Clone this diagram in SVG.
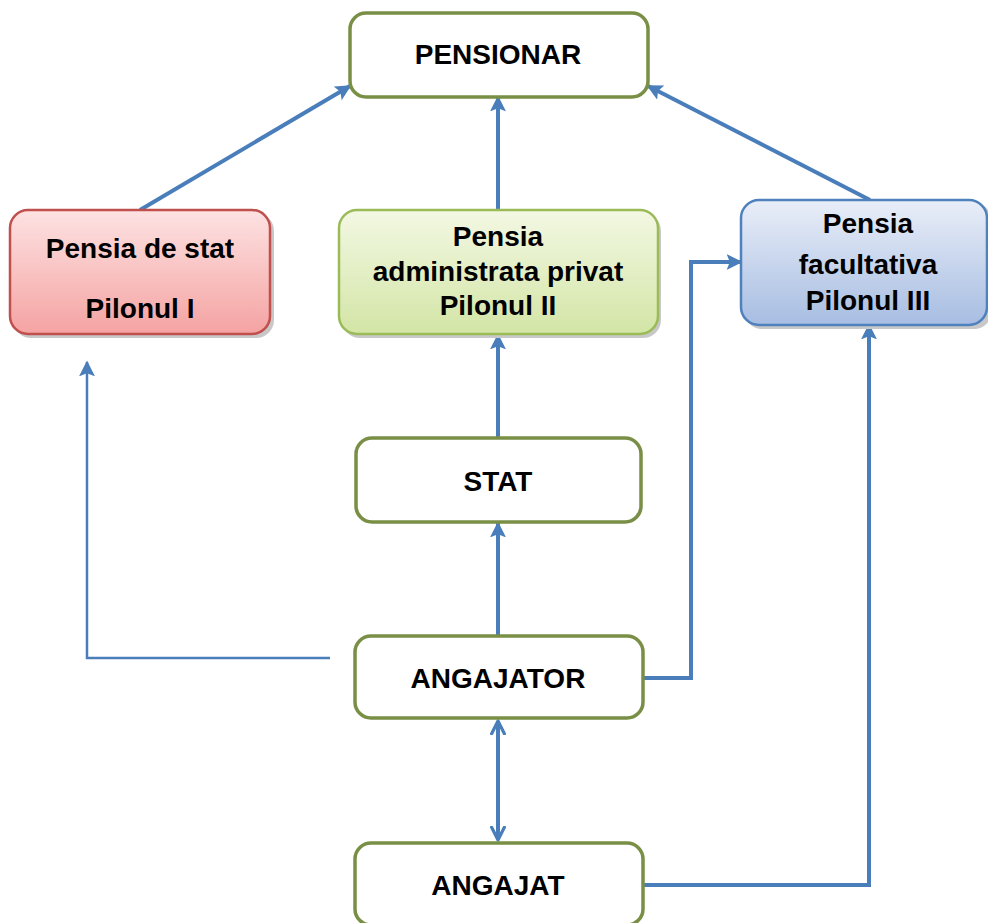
<svg xmlns="http://www.w3.org/2000/svg" width="988" height="923" viewBox="0 0 988 923">
<defs>
<linearGradient id="gRed" x1="0" y1="0" x2="0" y2="1"><stop offset="0" stop-color="#fde2e2"/><stop offset="1" stop-color="#f4a3a2"/></linearGradient>
<linearGradient id="gGreen" x1="0" y1="0" x2="0" y2="1"><stop offset="0" stop-color="#f3f8e3"/><stop offset="1" stop-color="#d3e5a6"/></linearGradient>
<linearGradient id="gBlue" x1="0" y1="0" x2="0" y2="1"><stop offset="0" stop-color="#e9eef8"/><stop offset="1" stop-color="#a7bde2"/></linearGradient>
<marker id="triBig" viewBox="0 0 10 10" refX="9" refY="5" markerWidth="16" markerHeight="16" markerUnits="userSpaceOnUse" orient="auto"><path d="M0,0 L10,5 L0,10 L2,5 z" fill="#4a7ebb"/></marker>
<marker id="open" viewBox="0 0 10 10" refX="9" refY="5" markerWidth="16" markerHeight="16" markerUnits="userSpaceOnUse" orient="auto-start-reverse"><path d="M1,1 L9,5 L1,9" fill="none" stroke="#4a7ebb" stroke-width="2" stroke-linecap="round" stroke-linejoin="round"/></marker>
</defs>
<style>
.wb{fill:#ffffff;stroke:#7a8f46;stroke-width:3.5}
.t{font-family:"Liberation Sans",Arial,sans-serif;font-weight:bold;font-size:28px;fill:#000;text-anchor:middle}
.c{fill:none;stroke:#4a7ebb;stroke-width:4}
.c2{fill:none;stroke:#4a7ebb;stroke-width:2.5}
.sh{fill:#c8c8c8}
</style>
<g id="connectors">
<line class="c" x1="140" y1="210" x2="350" y2="86" marker-end="url(#triBig)"/>
<line class="c" x1="498" y1="210" x2="498" y2="97" marker-end="url(#triBig)"/>
<line class="c" x1="870" y1="200" x2="648" y2="86" marker-end="url(#triBig)"/>
<line class="c" x1="498" y1="438" x2="498" y2="335" marker-end="url(#triBig)"/>
<line class="c" x1="498" y1="636" x2="498" y2="523" marker-end="url(#triBig)"/>
<polyline class="c2" points="330,658 87,658 87,362" marker-end="url(#triBig)"/>
<polyline class="c" points="643,678 691,678 691,262 741,262" marker-end="url(#triBig)"/>
<polyline class="c" points="643,885 869,885 869,325" marker-end="url(#triBig)"/>
<line class="c" x1="498" y1="721" x2="498" y2="840" marker-start="url(#open)" marker-end="url(#open)"/>
</g>
<g id="pensionar">
<rect class="wb" x="350" y="13" width="298" height="84" rx="16"/>
<text class="t" x="498" y="64">PENSIONAR</text>
</g>
<g id="pilonul1">
<rect class="sh" x="13" y="213" width="261" height="125" rx="18"/>
<rect x="10" y="210" width="260" height="124" rx="18" fill="url(#gRed)" stroke="#c0504d" stroke-width="2.5"/>
<text class="t" x="140" y="258">Pensia de stat</text>
<text class="t" x="140" y="318">Pilonul I</text>
</g>
<g id="pilonul2">
<rect class="sh" x="342" y="213" width="319" height="125" rx="18"/>
<rect x="339" y="210" width="319" height="124" rx="18" fill="url(#gGreen)" stroke="#9bbb59" stroke-width="2.5"/>
<text class="t" x="498" y="246">Pensia</text>
<text class="t" x="498" y="281">administrata privat</text>
<text class="t" x="498" y="315">Pilonul II</text>
</g>
<g id="pilonul3">
<rect class="sh" x="744" y="203" width="248" height="126" rx="18"/>
<rect x="741" y="200" width="246" height="125" rx="18" fill="url(#gBlue)" stroke="#4f81bd" stroke-width="2.5"/>
<text class="t" x="868" y="233">Pensia</text>
<text class="t" x="868" y="274">facultativa</text>
<text class="t" x="868" y="310">Pilonul III</text>
</g>
<g id="stat">
<rect class="wb" x="356" y="438" width="285" height="84" rx="16"/>
<text class="t" x="498" y="491">STAT</text>
</g>
<g id="angajator">
<rect class="wb" x="355" y="636" width="288" height="82" rx="16"/>
<text class="t" x="498" y="688">ANGAJATOR</text>
</g>
<g id="angajat">
<rect class="wb" x="355" y="843" width="288" height="82" rx="16"/>
<text class="t" x="498" y="895">ANGAJAT</text>
</g>
</svg>
